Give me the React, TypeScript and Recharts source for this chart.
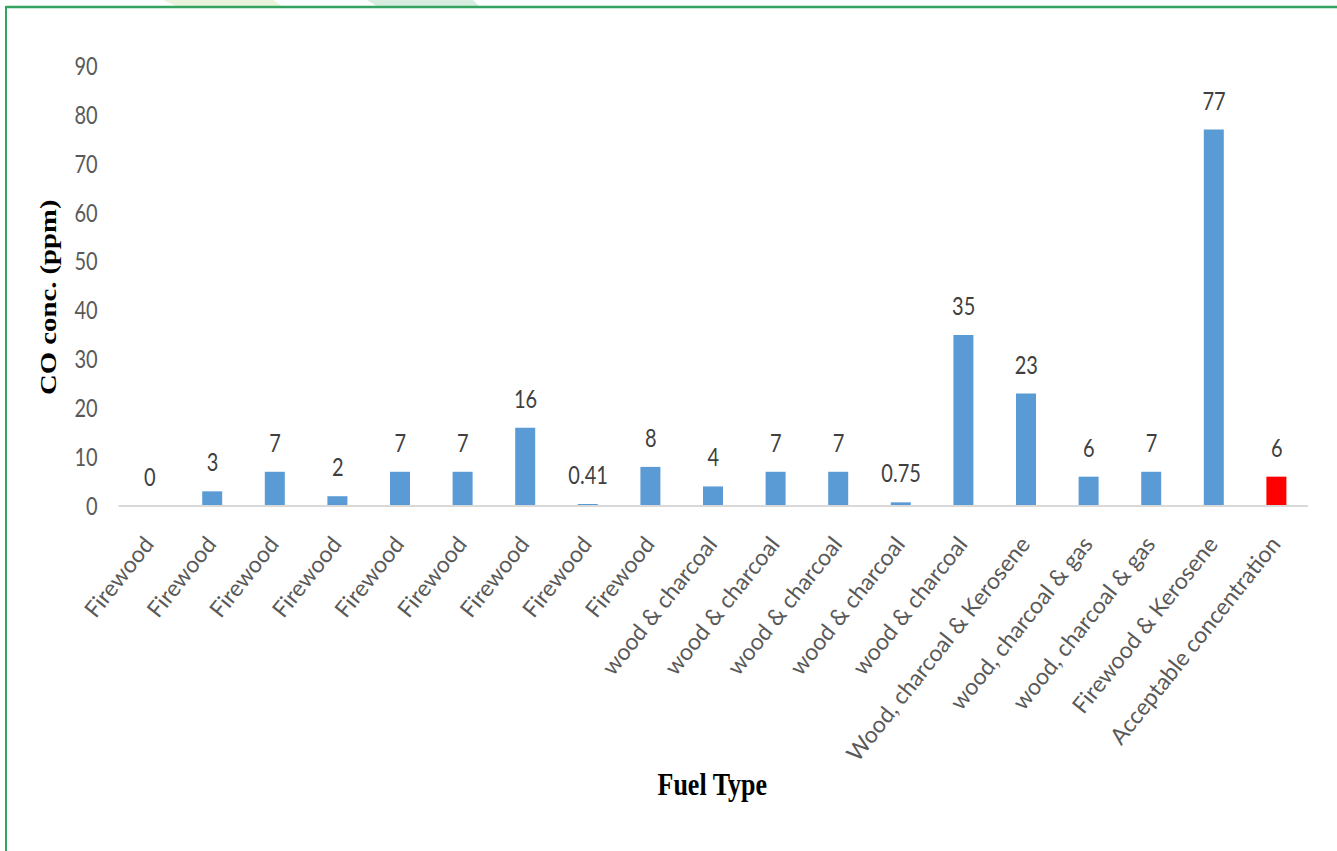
import { ComposedChart, Bar, Scatter, XAxis, YAxis, Cell, LabelList, Label } from 'recharts';

// CO concentration measured per household fuel type, plus the acceptable level
const fuelTypes = [
  'Firewood',
  'Firewood',
  'Firewood',
  'Firewood',
  'Firewood',
  'Firewood',
  'Firewood',
  'Firewood',
  'Firewood',
  'wood & charcoal',
  'wood & charcoal',
  'wood & charcoal',
  'wood & charcoal',
  'wood & charcoal',
  'Wood, charcoal & Kerosene',
  'wood, charcoal & gas',
  'wood, charcoal & gas',
  'Firewood & Kerosene',
  'Acceptable concentration',
];

const coValues = [0, 3, 7, 2, 7, 7, 16, 0.41, 8, 4, 7, 7, 0.75, 35, 23, 6, 7, 77, 6];

const yTicks = [0, 10, 20, 30, 40, 50, 60, 70, 80, 90];

const data = fuelTypes.map((fuel, i) => ({ fuel, co: coValues[i] }));

const BLUE = '#5b9bd5';
const RED = '#ff0000';
const FONT = 'Lato, "Open Sans", sans-serif';
const SERIF = '"Liberation Serif", "Times New Roman", serif';

// the whole figure is drawn in a squat box and stretched vertically
const STRETCH = 1.25;
const CHART_W = 1337;
const CHART_H = 851 / STRETCH;

// category labels: undo the vertical stretch so the glyphs stay upright
function FuelTick(props: any) {
  const { x, y, payload } = props;
  return (
    <g transform={`translate(${x + 5},${y + 29}) scale(1, ${1 / STRETCH}) rotate(-51.5)`}>
      <text x={0} y={0} textAnchor="end" fill="#595959" fontSize={23} fontFamily={FONT}>
        {payload.value}
      </text>
    </g>
  );
}

// value printed above each bar; anchored on the point's centre so zero values get one too
function ValueLabel(props: any) {
  const { x, y, width, height, value } = props;
  return (
    <text
      x={x + width / 2}
      y={y + height / 2 - 16}
      textAnchor="middle"
      fill="#404040"
      fontSize={20}
      fontFamily={FONT}
    >
      {value}
    </text>
  );
}

function YTitle(props: any) {
  const vb = props.viewBox;
  const cy = vb.y + vb.height / 2 + 9;
  return (
    <text
      x={56}
      y={cy}
      transform={`rotate(-90, 56, ${cy})`}
      textAnchor="middle"
      fontFamily={SERIF}
      fontWeight="bold"
      fontSize={23}
      fill="#000"
    >
      CO conc. (ppm)
    </text>
  );
}

function XTitle(props: any) {
  const vb = props.viewBox;
  return (
    <text
      x={vb.x + vb.width / 2 - 1}
      y={636}
      textAnchor="middle"
      fontFamily={SERIF}
      fontWeight="bold"
      fontSize={26}
      fill="#000"
    >
      Fuel Type
    </text>
  );
}

export default function App() {
  return (
    <div
      style={{
        position: 'absolute',
        left: 0,
        top: 0,
        width: 1337,
        height: 851,
        background: '#fff',
        overflow: 'hidden',
      }}
    >
      <div style={{ transform: `scaleY(${STRETCH})`, transformOrigin: '0 0', width: CHART_W, height: CHART_H }}>
        <ComposedChart
          width={CHART_W}
          height={CHART_H}
          data={data}
          margin={{ top: 52.8, right: 29, left: 0, bottom: 0 }}
          barSize={20}
        >
          <XAxis
            dataKey="fuel"
            interval={0}
            height={276}
            axisLine={{ stroke: '#d9d9d9', strokeWidth: 1.5 }}
            tickLine={false}
            tickSize={0}
            tick={<FuelTick />}
          >
            <Label content={<XTitle />} />
          </XAxis>
          <YAxis
            domain={[0, 90]}
            ticks={yTicks}
            interval={0}
            width={118.6}
            axisLine={false}
            tickLine={false}
            tickSize={0}
            tickMargin={21}
            tick={{ fill: '#595959', fontSize: 20, fontFamily: FONT }}
          >
            <Label content={<YTitle />} />
          </YAxis>
          <Bar dataKey="co" isAnimationActive={false}>
            {data.map((d, i) => (
              <Cell key={i} fill={d.fuel === 'Acceptable concentration' ? RED : BLUE} />
            ))}
          </Bar>
          {/* invisible points that carry the value labels */}
          <Scatter dataKey="co" fill="none" stroke="none" legendType="none" isAnimationActive={false}>
            <LabelList dataKey="co" content={<ValueLabel />} />
          </Scatter>
        </ComposedChart>
      </div>
      {/* page frame and faint header shapes */}
      <svg width={1337} height={851} style={{ position: 'absolute', left: 0, top: 0, pointerEvents: 'none' }}>
        <polygon points="163,0 273,0 285,8 180,8" fill="#eaf4dc" />
        <polygon points="367,0 473,0 480,7 378,7" fill="#d7eddf" />
        <line x1={6} y1={7} x2={1337} y2={7} stroke="#33a35f" strokeWidth={2.5} />
        <line x1={6} y1={6} x2={6} y2={851} stroke="#33a35f" strokeWidth={2} />
      </svg>
    </div>
  );
}
